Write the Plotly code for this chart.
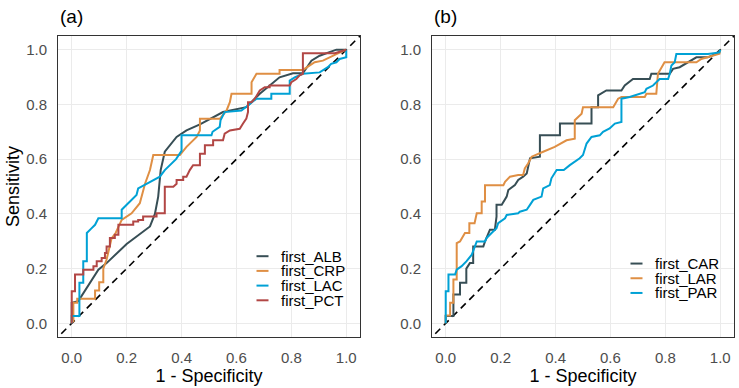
import plotly.graph_objects as go

# ---------------- data ----------------
names_a = ["first_ALB", "first_CRP", "first_LAC", "first_PCT"]
names_b = ["first_CAR", "first_LAR", "first_PAR"]
colors_a = ["#374E55", "#DF8F44", "#00A1D5", "#B24745"]
colors_b = ["#374E55", "#DF8F44", "#00A1D5"]

alb_x = [0, 0, 0.024, 0.06, 0.097, 0.127, 0.2, 0.285, 0.303, 0.315, 0.324, 0.339, 0.382, 0.418,
         0.467, 0.551, 0.636, 0.685, 0.757, 0.806, 0.842, 0.873, 0.903, 0.964, 1]
alb_y = [0, 0.075, 0.081, 0.136, 0.196, 0.22, 0.29, 0.354, 0.40, 0.463, 0.56, 0.627, 0.681, 0.705,
         0.727, 0.772, 0.79, 0.839, 0.899, 0.914, 0.914, 0.96, 0.978, 1.0, 1]

crp_x = [0, 0, 0.006, 0.006, 0.02, 0.02, 0.085, 0.085, 0.1, 0.1, 0.115, 0.115, 0.127, 0.145, 0.16,
         0.182, 0.218, 0.248, 0.267, 0.285, 0.297, 0.394, 0.418, 0.455, 0.467, 0.467, 0.54, 0.564,
         0.576, 0.582, 0.655, 0.655, 0.673, 0.757, 0.757, 0.842, 0.885, 0.915, 0.964, 0.994, 1]
crp_y = [0, 0.008, 0.008, 0.075, 0.075, 0.09, 0.09, 0.12, 0.12, 0.15, 0.15, 0.2, 0.233, 0.31, 0.33,
         0.378, 0.402, 0.439, 0.51, 0.56, 0.615, 0.615, 0.645, 0.681, 0.705, 0.748, 0.748, 0.778,
         0.808, 0.839, 0.839, 0.881, 0.912, 0.912, 0.926, 0.926, 0.954, 0.96, 0.984, 0.996, 1]

lac_x = [0, 0, 0.028, 0.028, 0.042, 0.042, 0.055, 0.055, 0.07, 0.085, 0.097, 0.182, 0.182, 0.206,
         0.236, 0.242, 0.285, 0.321, 0.339, 0.36, 0.38, 0.4, 0.4, 0.509, 0.513, 0.539, 0.542, 0.557,
         0.618, 0.642, 0.655, 0.673, 0.727, 0.727, 0.794, 0.794, 0.812, 0.842, 0.903, 0.933, 0.945,
         0.964, 0.976, 1.0, 1]
lac_y = [0, 0.027, 0.027, 0.148, 0.148, 0.227, 0.227, 0.33, 0.345, 0.36, 0.384, 0.384, 0.415, 0.439,
         0.469, 0.493, 0.517, 0.536, 0.56, 0.58, 0.60, 0.63, 0.687, 0.687, 0.7, 0.718, 0.742, 0.772,
         0.778, 0.796, 0.808, 0.821, 0.821, 0.839, 0.839, 0.887, 0.899, 0.912, 0.917, 0.936, 0.948,
         0.954, 0.966, 0.972, 1]

pct_x = [0, 0, 0.012, 0.012, 0.042, 0.042, 0.079, 0.079, 0.091, 0.091, 0.109, 0.109, 0.121, 0.121,
         0.127, 0.127, 0.139, 0.139, 0.157, 0.157, 0.17, 0.17, 0.224, 0.224, 0.242, 0.242, 0.26, 0.26,
         0.309, 0.309, 0.339, 0.339, 0.37, 0.382, 0.382, 0.406, 0.406, 0.418, 0.43, 0.442, 0.467,
         0.467, 0.485, 0.485, 0.515, 0.515, 0.551, 0.557, 0.576, 0.612, 0.624, 0.636, 0.642, 0.642,
         0.655, 0.667, 0.685, 0.703, 0.721, 0.721, 0.794, 0.8, 0.818, 0.83, 0.842, 0.842, 0.958, 1]
pct_y = [0, 0.117, 0.117, 0.178, 0.178, 0.196, 0.196, 0.209, 0.209, 0.227, 0.227, 0.239, 0.239, 0.257,
         0.257, 0.281, 0.281, 0.312, 0.312, 0.324, 0.324, 0.36, 0.36, 0.372, 0.372, 0.378, 0.378, 0.39,
         0.39, 0.402, 0.402, 0.499, 0.499, 0.51, 0.524, 0.524, 0.536, 0.536, 0.56, 0.578, 0.578,
         0.62, 0.62, 0.651, 0.651, 0.669, 0.669, 0.693, 0.705, 0.711, 0.73, 0.748, 0.772, 0.808,
         0.808, 0.821, 0.851, 0.863, 0.863, 0.869, 0.869, 0.881, 0.893, 0.906, 0.912, 0.987, 0.987, 1]

car_x = [0, 0, 0.028, 0.028, 0.052, 0.052, 0.075, 0.075, 0.088, 0.1, 0.1, 0.137, 0.143, 0.155, 0.161,
         0.179, 0.185, 0.185, 0.204, 0.222, 0.228, 0.252, 0.264, 0.282, 0.295, 0.307, 0.343, 0.343,
         0.416, 0.416, 0.531, 0.531, 0.555, 0.555, 0.585, 0.64, 0.652, 0.682, 0.743, 0.749, 0.816,
         0.828, 0.852, 0.913, 0.955, 0.985, 1]
car_y = [0, 0.027, 0.027, 0.105, 0.105, 0.148, 0.148, 0.20, 0.22, 0.22, 0.281, 0.281, 0.299, 0.324,
         0.342, 0.342, 0.39, 0.433, 0.433, 0.463, 0.487, 0.505, 0.524, 0.536, 0.548, 0.603, 0.609,
         0.687, 0.687, 0.73, 0.73, 0.79, 0.79, 0.833, 0.851, 0.851, 0.869, 0.893, 0.893, 0.912, 0.912,
         0.93, 0.936, 0.972, 0.972, 0.985, 1]

lar_x = [0, 0, 0.016, 0.016, 0.028, 0.028, 0.04, 0.04, 0.052, 0.058, 0.07, 0.086, 0.086, 0.105, 0.113,
         0.131, 0.131, 0.143, 0.143, 0.21, 0.216, 0.234, 0.264, 0.282, 0.288, 0.3, 0.313, 0.355, 0.397,
         0.44, 0.47, 0.47, 0.495, 0.5, 0.61, 0.628, 0.64, 0.725, 0.731, 0.767, 0.773, 0.797, 0.913,
         0.931, 0.979, 0.997, 1]
lar_y = [0, 0.029, 0.029, 0.075, 0.075, 0.16, 0.16, 0.293, 0.299, 0.31, 0.33, 0.33, 0.366, 0.366,
         0.402, 0.402, 0.445, 0.445, 0.505, 0.505, 0.517, 0.536, 0.542, 0.542, 0.566, 0.584, 0.609,
         0.627, 0.645, 0.669, 0.675, 0.742, 0.766, 0.79, 0.79, 0.821, 0.827, 0.827, 0.839, 0.839,
         0.912, 0.954, 0.954, 0.966, 0.978, 0.985, 1]

par_x = [0, 0, 0.01, 0.01, 0.034, 0.04, 0.058, 0.076, 0.095, 0.113, 0.143, 0.149, 0.167, 0.185, 0.191,
         0.216, 0.222, 0.264, 0.27, 0.295, 0.307, 0.319, 0.349, 0.355, 0.379, 0.385, 0.404, 0.43,
         0.452, 0.488, 0.5, 0.513, 0.531, 0.561, 0.573, 0.597, 0.616, 0.64, 0.64, 0.67, 0.725, 0.731,
         0.755, 0.779, 0.81, 0.816, 0.822, 0.834, 0.84, 0.955, 0.997, 1]
par_y = [0, 0.117, 0.117, 0.178, 0.178, 0.196, 0.209, 0.227, 0.251, 0.299, 0.299, 0.312, 0.33, 0.348,
         0.366, 0.384, 0.396, 0.402, 0.408, 0.415, 0.433, 0.451, 0.463, 0.493, 0.505, 0.53, 0.56,
         0.56, 0.578, 0.603, 0.615, 0.657, 0.681, 0.687, 0.7, 0.712, 0.73, 0.736, 0.821, 0.827, 0.845,
         0.857, 0.869, 0.893, 0.893, 0.912, 0.942, 0.954, 0.984, 0.984, 0.99, 1]

ref_line = [-0.1, 1.1]          # chance diagonal y = x
tick_vals = [0, 0.2, 0.4, 0.6, 0.8, 1.0]
tick_text = ["0.0", "0.2", "0.4", "0.6", "0.8", "1.0"]
panel_labels = ["(a)", "(b)"]
x_title = "1 - Specificity"
y_title = "Sensitivity"

series_a = [(alb_x, alb_y), (crp_x, crp_y), (lac_x, lac_y), (pct_x, pct_y)]
series_b = [(car_x, car_y), (lar_x, lar_y), (par_x, par_y)]

# ---------------- figure ----------------
FONT = "Liberation Sans, Arial, sans-serif"
W, H = 739, 388
ML, MR, MT, MB = 58, 5, 36, 51
plot_w = W - ML - MR
plot_h = H - MT - MB

fig = go.Figure()

for xa, ya in [("x", "y"), ("x2", "y2")]:
    fig.add_trace(go.Scatter(x=ref_line, y=ref_line, mode="lines", xaxis=xa, yaxis=ya,
                             line=dict(color="black", width=1.6, dash="7px,5px"),
                             showlegend=False, hoverinfo="skip"))

for (sx, sy), n, c in zip(series_a, names_a, colors_a):
    fig.add_trace(go.Scatter(x=sx, y=sy, mode="lines", name=n, xaxis="x", yaxis="y",
                             line=dict(color=c, width=2), showlegend=False))
for (sx, sy), n, c in zip(series_b, names_b, colors_b):
    fig.add_trace(go.Scatter(x=sx, y=sy, mode="lines", name=n, xaxis="x2", yaxis="y2",
                             line=dict(color=c, width=2), showlegend=False))

axis_common = dict(
    range=[-0.05, 1.05], tickvals=tick_vals, ticktext=tick_text,
    showgrid=True, gridcolor="#EBEBEB", gridwidth=1.3, zeroline=False,
    showline=True, mirror=True, linecolor="#333333", linewidth=1,
    ticks="", ticklabelstandoff=7,
    tickfont=dict(family=FONT, size=15, color="#4D4D4D"),
)
title_font = dict(family=FONT, size=18, color="black")

pa_w = 302 / plot_w
gap_start = (432 - ML) / plot_w

fig.update_layout(
    width=W, height=H,
    margin=dict(l=ML, r=MR, t=MT, b=MB),
    paper_bgcolor="white", plot_bgcolor="white",
    font=dict(family=FONT),
    showlegend=False,
    xaxis=dict(domain=[0, pa_w], anchor="y",
               title=dict(text=x_title, font=title_font, standoff=1), **axis_common),
    yaxis=dict(domain=[0, 1], anchor="x",
               title=dict(text=y_title, font=title_font, standoff=1), **axis_common),
    xaxis2=dict(domain=[gap_start, 1], anchor="y2",
                title=dict(text=x_title, font=title_font, standoff=1), **axis_common),
    yaxis2=dict(domain=[0, 1], anchor="x2", **axis_common),
)

# panel tags
for xref, lab in zip(["x domain", "x2 domain"], panel_labels):
    fig.add_annotation(text=lab, xref=xref, yref="paper", x=0, y=1 + 19 / plot_h,
                       xanchor="left", yanchor="middle", showarrow=False,
                       font=dict(family=FONT, size=19, color="black"))

# in-panel legends (ggplot style: short key lines, tight rows)
row_step = 14.7 / plot_h
center_y = (337 - 278.25) / plot_h
key_x0, key_x1, text_x = 198.5 / 302, 210.5 / 302, 221.3 / 302
for xref, names, cols in [("x domain", names_a, colors_a), ("x2 domain", names_b, colors_b)]:
    n = len(names)
    for i, (nm, c) in enumerate(zip(names, cols)):
        yy = center_y + ((n - 1) / 2 - i) * row_step
        fig.add_shape(type="line", xref=xref, yref="paper", x0=key_x0, x1=key_x1, y0=yy, y1=yy,
                      line=dict(color=c, width=2))
        fig.add_annotation(text=nm, xref=xref, yref="paper", x=text_x, y=yy,
                           xanchor="left", yanchor="middle", showarrow=False,
                           font=dict(family=FONT, size=15, color="black"))

fig.write_html("out.html")
